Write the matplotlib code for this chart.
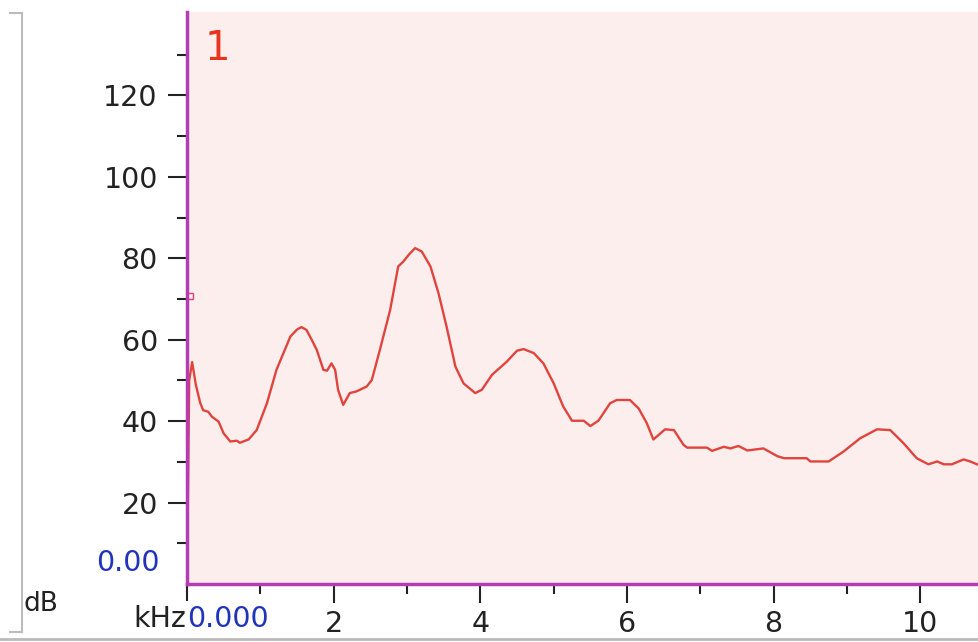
import matplotlib
matplotlib.use('Agg')
from matplotlib import pyplot as plt
from matplotlib.lines import Line2D
from matplotlib.ticker import FixedLocator

# spectrum trace (kHz, dB)
freq_khz = [0.0, 0.03, 0.07, 0.12, 0.18, 0.22, 0.29, 0.34, 0.43, 0.50, 0.59, 0.68, 0.72,
            0.84, 0.95, 1.09, 1.22, 1.41, 1.50, 1.56, 1.63, 1.70, 1.77, 1.86, 1.91, 1.97, 2.02,
            2.06, 2.13, 2.22, 2.31, 2.45, 2.52, 2.63, 2.77, 2.88, 2.95, 3.03, 3.11, 3.20,
            3.32, 3.43, 3.54, 3.66, 3.77, 3.93, 4.02, 4.16, 4.36, 4.50, 4.59, 4.73,
            4.86, 5.00, 5.13, 5.25, 5.41, 5.50, 5.61, 5.77, 5.86, 6.04, 6.16, 6.27,
            6.36, 6.52, 6.64, 6.77, 6.82, 7.09, 7.16, 7.32, 7.41, 7.52, 7.64, 7.86,
            8.05, 8.14, 8.45, 8.50, 8.75, 8.95, 9.18, 9.41, 9.59, 9.77, 9.95, 10.11,
            10.23, 10.32, 10.43, 10.59, 10.68, 10.80]
level_db = [0.0, 50.0, 54.5, 49.0, 44.5, 42.7, 42.3, 41.1, 39.9, 37.0, 35.0, 35.2, 34.7,
            35.5, 37.8, 44.4, 52.6, 60.8, 62.5, 63.1, 62.4, 60.0, 57.5, 52.6, 52.4, 54.2, 52.6,
            47.7, 44.0, 46.9, 47.3, 48.5, 50.1, 57.5, 67.3, 78.0, 79.2, 81.0, 82.5, 81.7,
            78.0, 71.4, 63.2, 53.4, 49.3, 46.9, 47.7, 51.4, 54.6, 57.3, 57.7, 56.7,
            54.2, 49.3, 43.6, 40.1, 40.1, 38.8, 40.1, 44.4, 45.2, 45.2, 43.1, 39.5,
            35.5, 38.0, 37.8, 34.2, 33.5, 33.5, 32.7, 33.7, 33.3, 33.9, 32.8, 33.3,
            31.4, 30.9, 30.9, 30.1, 30.1, 32.5, 35.8, 38.0, 37.8, 34.6, 30.9, 29.4,
            30.1, 29.4, 29.4, 30.6, 30.1, 29.2]

cursor_khz = [0.04]
cursor_db = [70.8]

y_major = [20, 40, 60, 80, 100, 120]
y_minor = [10, 30, 50, 70, 90, 110, 130]
x_major = [2, 4, 6, 8, 10]
x_minor = [0, 1, 3, 5, 7, 9]

fig = plt.figure(figsize=(9.79, 6.42), dpi=100)
ax = fig.add_axes([187 / 979, 1 - 584 / 642, 1 - 187 / 979, (584 - 12) / 642])
ax.set_facecolor('#fdeeee')

ax.plot(freq_khz, level_db, color='#e0443c', lw=1.7)
ax.plot(cursor_khz, cursor_db, marker='s', ms=4, mfc='none', mec='#e0407a', mew=1, ls='none')

ax.set_xlim(0, 10.8)
ax.set_ylim(0, 140.5)

for s in ['top', 'right']:
    ax.spines[s].set_visible(False)
for s in ['left', 'bottom']:
    ax.spines[s].set_color('#b53cb5')
    ax.spines[s].set_linewidth(2.5)

ax.yaxis.set_major_locator(FixedLocator(y_major))
ax.yaxis.set_minor_locator(FixedLocator(y_minor))
ax.xaxis.set_major_locator(FixedLocator(x_major))
ax.xaxis.set_minor_locator(FixedLocator(x_minor))
ax.tick_params(axis='both', which='major', length=14, width=1.5, color='#222222',
               labelsize=20.5, labelcolor='#222222', pad=7)
ax.tick_params(axis='both', which='minor', length=7, width=1.5, color='#222222')
ax.tick_params(axis='x', which='major', pad=5)
ax.xaxis.get_minor_ticks()[0].tick1line.set_color('#2233bb')
ax.xaxis.get_minor_ticks()[0].tick1line.set_markersize(12)

# zero labels in blue, unit labels in black
fig.text(160 / 979, 1 - 563 / 642, '0.00', color='#2233bb', fontsize=20.5,
         ha='right', va='center')
fig.text(187 / 979, 1 - 619 / 642, '0.000', color='#2233bb', fontsize=20.5,
         ha='left', va='center')
fig.text(186 / 979, 1 - 619 / 642, 'kHz', color='#222222', fontsize=20.5,
         ha='right', va='center')
fig.text(24 / 979, 1 - 604 / 642, 'dB', color='#222222', fontsize=19,
         ha='left', va='center')
ax.text(0.022, 0.935, '1', transform=ax.transAxes, color='#e8341c', fontsize=29,
        ha='left', va='center')

# window frame
fig.add_artist(Line2D([22 / 979, 22 / 979], [1 - 13 / 642, 1 - 632 / 642],
                      color='#bbbbbb', lw=1.5, transform=fig.transFigure))
fig.add_artist(Line2D([10 / 979, 22 / 979], [1 - 13 / 642, 1 - 13 / 642],
                      color='#bbbbbb', lw=1.5, transform=fig.transFigure))
fig.add_artist(Line2D([10 / 979, 22 / 979], [1 - 632 / 642, 1 - 632 / 642],
                      color='#bbbbbb', lw=1.5, transform=fig.transFigure))
fig.add_artist(Line2D([0, 1], [1 - 639 / 642, 1 - 639 / 642],
                      color='#bbbbbb', lw=2, transform=fig.transFigure))

fig.savefig('out.png', dpi=100)
